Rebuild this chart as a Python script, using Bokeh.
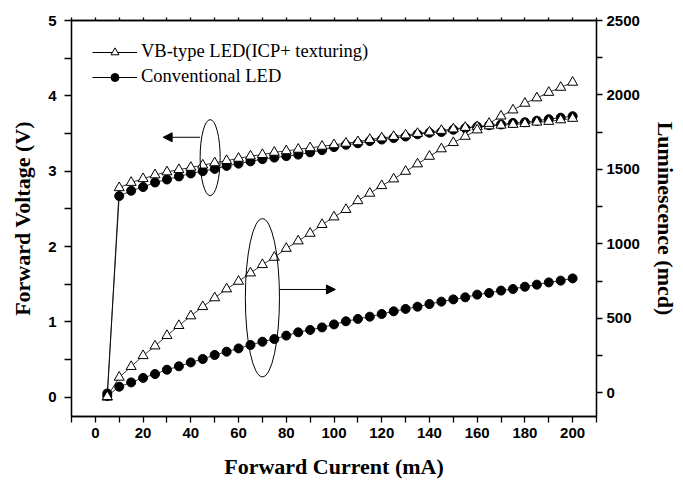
from bokeh.plotting import figure
from bokeh.models import (Range1d, LinearAxis, FixedTicker, ColumnDataSource,
                          Legend, LegendItem, Arrow, NormalHead)
from bokeh.embed import file_html
from bokeh.resources import INLINE

# ---------------- data ----------------
current = [5, 10, 15, 20, 25, 30, 35, 40, 45, 50, 55, 60, 65, 70, 75, 80, 85, 90, 95, 100,
           105, 110, 115, 120, 125, 130, 135, 140, 145, 150, 155, 160, 165, 170, 175, 180,
           185, 190, 195, 200]

vb_voltage = [0.00, 2.78, 2.85, 2.90, 2.95, 2.99, 3.02, 3.05, 3.08, 3.11, 3.14, 3.17, 3.20,
              3.22, 3.25, 3.27, 3.29, 3.31, 3.33, 3.35, 3.37, 3.39, 3.42, 3.44, 3.46, 3.48,
              3.50, 3.52, 3.54, 3.56, 3.58, 3.59, 3.60, 3.61, 3.62, 3.63, 3.65, 3.66, 3.68, 3.70]

conv_voltage = [0.05, 2.67, 2.74, 2.79, 2.85, 2.89, 2.93, 2.97, 3.00, 3.03, 3.07, 3.10, 3.13,
                3.16, 3.18, 3.20, 3.22, 3.25, 3.28, 3.32, 3.35, 3.37, 3.40, 3.42, 3.44, 3.46,
                3.49, 3.51, 3.52, 3.55, 3.57, 3.59, 3.61, 3.62, 3.64, 3.65, 3.67, 3.69, 3.71, 3.73]

vb_lum = [-25, 105, 177, 250, 315, 385, 452, 517, 579, 638, 698, 749, 805, 861, 910, 970,
          1020, 1071, 1130, 1181, 1231, 1290, 1340, 1391, 1436, 1487, 1537, 1588, 1638, 1680,
          1722, 1765, 1809, 1858, 1899, 1944, 1980, 2017, 2051, 2085]

conv_lum = [-20, 42, 71, 101, 127, 156, 179, 205, 228, 255, 277, 299, 322, 344, 362, 385,
            407, 423, 440, 460, 481, 497, 512, 530, 548, 564, 579, 597, 613, 628, 642, 660,
            671, 687, 698, 713, 727, 742, 754, 769]

x_ticks = [0, 20, 40, 60, 80, 100, 120, 140, 160, 180, 200]
x_minor = [-10, 10, 30, 50, 70, 90, 110, 130, 150, 170, 190, 210]
x_all = [-10, 0, 10, 20, 30, 40, 50, 60, 70, 80, 90, 100, 110, 120, 130, 140, 150, 160,
         170, 180, 190, 200, 210]
v_ticks = [0, 1, 2, 3, 4, 5]
v_minor = [0.5, 1.5, 2.5, 3.5, 4.5]
l_ticks = [0, 500, 1000, 1500, 2000, 2500]
l_minor = [250, 750, 1250, 1750, 2250]

legend_labels = ["VB-type LED(ICP+ texturing)", "Conventional LED"]
x_title = "Forward Current (mA)"
v_title = "Forward Voltage (V)"
l_title = "Luminescence (mcd)"

# ---------------- figure ----------------
p = figure(width=683, height=482, output_backend="svg", toolbar_location=None,
           x_range=Range1d(-10, 210), y_range=Range1d(-0.256, 5),
           x_axis_location=None, y_axis_location=None,
           min_border_left=71, min_border_right=87, min_border_top=20, min_border_bottom=66)
p.extra_y_ranges = {"lum": Range1d(-158, 2500)}
p.xgrid.visible = False
p.ygrid.visible = False
p.outline_line_color = "black"
p.outline_line_width = 1.3
p.background_fill_color = "white"
p.border_fill_color = "white"

TICK_FONT = "Liberation Sans"
TITLE_FONT = "Liberation Serif"


def style_axis(ax, tick_out):
    ax.axis_line_color = "black"
    ax.axis_line_width = 1.3
    ax.major_tick_line_color = "black"
    ax.minor_tick_line_color = "black"
    ax.major_tick_line_width = 1.3
    ax.minor_tick_line_width = 1.3
    ax.major_tick_in = 0
    ax.minor_tick_in = 0
    ax.major_tick_out = tick_out
    ax.minor_tick_out = tick_out
    ax.major_label_text_font = TICK_FONT
    ax.major_label_text_font_style = "bold"
    ax.major_label_text_font_size = "15px"
    ax.major_label_text_color = "black"
    ax.axis_label_text_font = TITLE_FONT
    ax.axis_label_text_font_style = "bold"
    ax.axis_label_text_font_size = "22px"
    ax.axis_label_text_color = "black"


xaxis = LinearAxis(ticker=FixedTicker(ticks=x_ticks, minor_ticks=x_minor), axis_label=x_title)
style_axis(xaxis, 6)
xaxis.major_label_standoff = 5
xaxis.axis_label_standoff = 13
p.add_layout(xaxis, "below")

# top frame ticks only (no labels)
top_axis = LinearAxis(ticker=FixedTicker(ticks=[], minor_ticks=x_all))
style_axis(top_axis, 3)
top_axis.major_label_standoff = 0
p.add_layout(top_axis, "above")

vaxis = LinearAxis(ticker=FixedTicker(ticks=v_ticks, minor_ticks=v_minor), axis_label=v_title)
style_axis(vaxis, 7)
vaxis.major_label_standoff = 8
vaxis.axis_label_standoff = 10
p.add_layout(vaxis, "left")

laxis = LinearAxis(y_range_name="lum", ticker=FixedTicker(ticks=l_ticks, minor_ticks=l_minor),
                   axis_label=l_title)
style_axis(laxis, 6)
laxis.major_label_standoff = 4
laxis.axis_label_standoff = 10
p.add_layout(laxis, "right")

# ---------------- series ----------------
p.line(current, vb_voltage, line_color="black", line_width=0.8)
p.line(current, conv_voltage, line_color="black", line_width=0.8)
p.line(current, vb_lum, line_color="black", line_width=0.8, y_range_name="lum")
p.line(current, conv_lum, line_color="black", line_width=0.8, y_range_name="lum")

p.scatter(current, conv_voltage, marker="circle", size=9, fill_color="black", line_color="black")
p.scatter(current, vb_voltage, marker="triangle", size=10, fill_color="white",
          line_color="black", line_width=1)
p.scatter(current, conv_lum, marker="circle", size=9, fill_color="black", line_color="black",
          y_range_name="lum")
p.scatter(current, vb_lum, marker="triangle", size=10, fill_color="white",
          line_color="black", line_width=1, y_range_name="lum")

# ---------------- annotations (ellipses + arrows) ----------------
p.ellipse(x=[48.1], y=[3.18], width=[8.4], height=[1.01], fill_color=None,
          line_color="black", line_width=1)
p.ellipse(x=[70.0], y=[1.32], width=[14.3], height=[2.1], fill_color=None,
          line_color="black", line_width=1)
p.add_layout(Arrow(end=NormalHead(size=9, fill_color="black", line_color="black"),
                   x_start=43.9, y_start=3.45, x_end=28.4, y_end=3.45,
                   line_color="black", line_width=1))
p.add_layout(Arrow(end=NormalHead(size=9, fill_color="black", line_color="black"),
                   x_start=77.2, y_start=1.43, x_end=100.6, y_end=1.43,
                   line_color="black", line_width=1))

# ---------------- legend (glyph-only renderers, not drawn in the frame) ----------------
nan = float("nan")
proxy = ColumnDataSource(data=dict(x=[nan], y=[nan]))
l1 = p.line("x", "y", source=proxy, line_color="black", line_width=1)
m1 = p.scatter("x", "y", source=proxy, marker="triangle", size=7, fill_color="white",
               line_color="black")
l2 = p.line("x", "y", source=proxy, line_color="black", line_width=1)
m2 = p.scatter("x", "y", source=proxy, marker="circle", size=7, fill_color="black",
               line_color="black")
legend = Legend(items=[LegendItem(label=legend_labels[0], renderers=[l1, m1]),
                       LegendItem(label=legend_labels[1], renderers=[l2, m2])],
                location="top_left")
legend.margin = 21
legend.padding = 0
legend.spacing = 4
legend.glyph_width = 45
legend.glyph_height = 20
legend.label_height = 20
legend.label_standoff = 4
legend.label_text_font = TITLE_FONT
legend.label_text_font_size = "18.5px"
legend.label_text_color = "black"
legend.border_line_color = None
legend.background_fill_alpha = 0
p.add_layout(legend, "center")

open("out.html", "w").write(file_html(p, INLINE))
